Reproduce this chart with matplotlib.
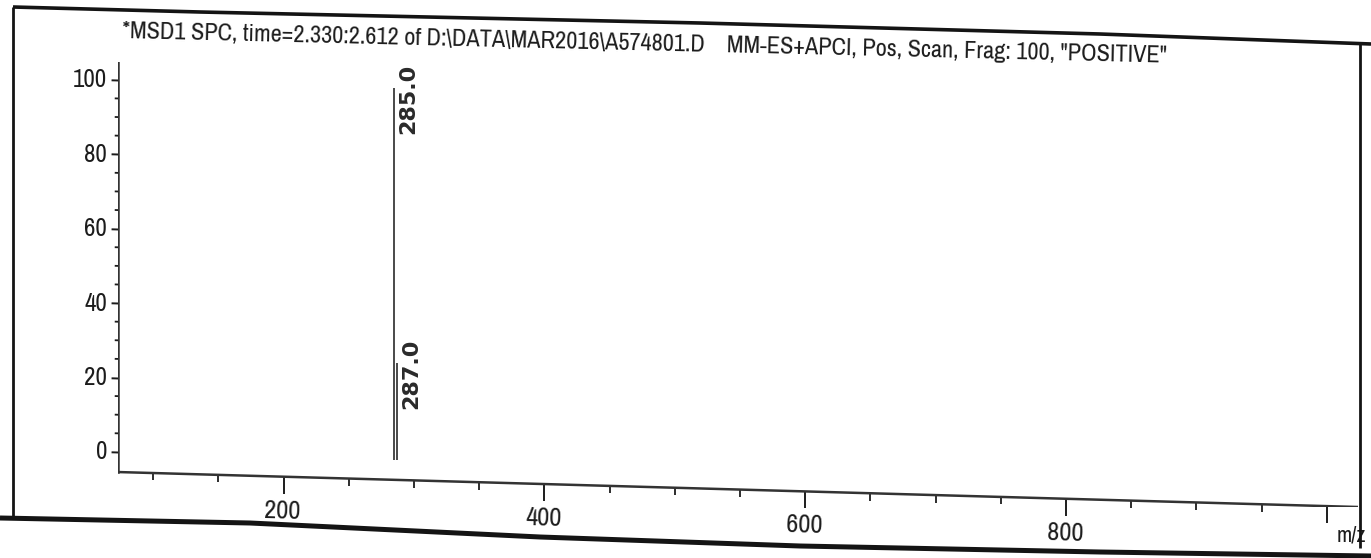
import numpy as np
import matplotlib
matplotlib.use("Agg")
import matplotlib.pyplot as plt
from matplotlib import font_manager
from matplotlib.transforms import Affine2D
from matplotlib.lines import Line2D
from mpl_toolkits.axisartist import floating_axes
from mpl_toolkits.axisartist.grid_finder import FixedLocator, DictFormatter

# ---- spectrum data -------------------------------------------------------
peak_mz = [285.0, 287.0]
peak_abundance = [100.0, 26.0]
peak_labels = ["285.0", "287.0"]

x_major = [200, 400, 600, 800, 1000]
x_major_labels = ["200", "400", "600", "800", ""]
y_major = [0, 20, 40, 60, 80, 100]
y_major_labels = ["0", "20", "40", "60", "80", "100"]

title_text = ('*MSD1 SPC, time=2.330:2.612 of D:\\DATA\\MAR2016\\A574801.D    '
              'MM-ES+APCI, Pos, Scan, Frag: 100, "POSITIVE"')

# ---- fonts ---------------------------------------------------------------
available = {f.name for f in font_manager.fontManager.ttflist}
narrow = next((n for n in ["Liberation Sans Narrow", "Arial Narrow", "Archivo Narrow",
                           "PT Sans Narrow", "Roboto Condensed", "Open Sans Condensed",
                           "Liberation Sans"] if n in available), "DejaVu Sans")
ink = "#1c1c1c"

# ---- geometry ------------------------------------------------------------
W, H = 1371, 558
XMIN, XMAX = 73.0, 1024.0
YMIN, YMAX = -5.4, 104.8
SLOPE = 0.00988          # printout baseline drifts downward to the right

fig = plt.figure(figsize=(W / 100, H / 100), dpi=100)
fig.patch.set_facecolor("white")

shear = Affine2D.from_values(1, -SLOPE, 0, 1, 0, SLOPE * XMIN)
helper = floating_axes.GridHelperCurveLinear(
    shear, extremes=(XMIN, XMAX, YMIN, YMAX),
    grid_locator1=FixedLocator(x_major),
    grid_locator2=FixedLocator(y_major),
    tick_formatter1=DictFormatter(dict(zip(x_major, x_major_labels))),
    tick_formatter2=DictFormatter(dict(zip(y_major, y_major_labels))),
)

left_px, right_px, top_px, bot_px = 118, 1358, 62, 507
rect = [left_px / W, 1 - bot_px / H, (right_px - left_px) / W, (bot_px - top_px) / H]
ax = fig.add_axes(rect, axes_class=floating_axes.FloatingAxes, grid_helper=helper)
ax.set_aspect("auto")
ax.set_xlim(XMIN, XMAX)
ax.set_ylim(YMIN - SLOPE * (XMAX - XMIN), YMAX)
ax.patch.set_facecolor("white")

ax.axis["top"].set_visible(False)
ax.axis["right"].set_visible(False)
for side in ["left", "bottom"]:
    art = ax.axis[side]
    art.line.set_color("#333333")
    art.line.set_linewidth(1.8)
    art.major_ticks.set_tick_out(True)
    art.major_ticks.set_color(ink)
    art.major_ticks.set_markeredgewidth(1.4)
    art.major_ticklabels.set_fontfamily(narrow)
    art.major_ticklabels.set_color(ink)
ax.axis["bottom"].major_ticks.set_ticksize(12)
ax.axis["bottom"].major_ticklabels.set_fontsize(19)
ax.axis["bottom"].major_ticklabels.set_pad(5)
ax.axis["left"].major_ticks.set_ticksize(5)
ax.axis["left"].major_ticklabels.set_fontsize(18)
ax.axis["left"].major_ticklabels.set_pad(3)

aux = ax.get_aux_axes(shear)

# minor ticks: every 50 on m/z, every 5 on abundance
x_minor = [v for v in np.arange(100, 1001, 50) if v not in x_major]
y_minor = [v for v in np.arange(5, 101, 5) if v not in y_major]
aux.vlines(x_minor, YMIN - 2.0, YMIN, color=ink, lw=1.3, clip_on=False)
aux.hlines(y_minor, XMIN - 2.5, XMIN + 0.8, color=ink, lw=1.3, clip_on=False)

# spectrum sticks and their m/z annotations
aux.vlines(peak_mz, 0, peak_abundance, color="#2a2a2a", lw=1.2)
for mz, ab, lab in zip(peak_mz, peak_abundance, peak_labels):
    aux.annotate(lab, xy=(mz, ab), xytext=(3, -8), textcoords="offset points",
                 rotation=90, ha="left", va="center", fontsize=16,
                 fontweight="bold", family="DejaVu Sans", color="#2a2a2a")

aux.annotate("m/z", xy=(XMAX, YMIN), xytext=(6, -13), textcoords="offset points",
             ha="right", va="top", fontsize=16, family=narrow, color=ink,
             annotation_clip=False)

# title line of the printout (the sheet sits slightly askew)
fig.text(122 / W, 1 - 38 / H, title_text, ha="left", va="baseline",
         fontsize=17.5, family=narrow, color=ink, rotation=-1.35,
         rotation_mode="anchor")

# frame of the printed page
def px_line(xs, ys, lw):
    fig.add_artist(Line2D([x / W for x in xs], [1 - y / H for y in ys],
                          transform=fig.transFigure, color="#141414", lw=lw,
                          solid_capstyle="butt"))

px_line([13, 200, 700, 1100, 1371], [7, 12, 23, 34, 44], 2.6)
px_line([13, 13], [7, 519], 2.0)
px_line([1360, 1360], [42, 548], 2.0)
px_line([0, 250, 540, 800, 1100, 1371], [518, 523, 537, 546, 552, 556], 3.6)

fig.savefig("out.png", dpi=100, facecolor="white")
